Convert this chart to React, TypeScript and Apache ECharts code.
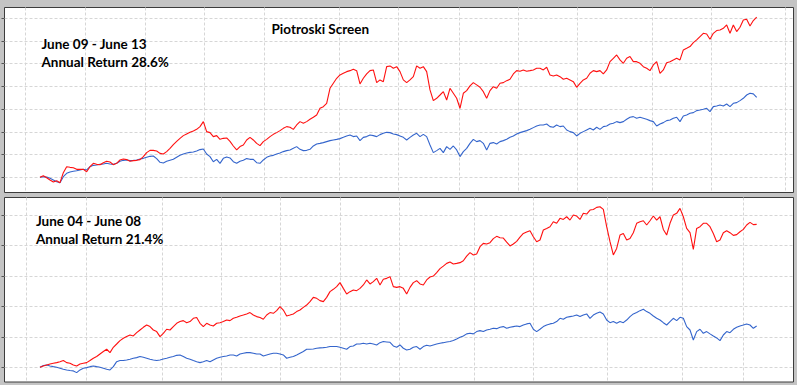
import React, { useEffect, useRef } from "react";
import * as echarts from "echarts";

// Top panel: June 09 - June 13 (growth index, start = 100)
const topScreen = [
  100.0,101.8,99.6,97.1,94.9,96.3,94.1,105.1,111.7,111.0,
  110.6,108.8,108.8,108.8,106.2,111.7,115.4,114.3,113.9,116.1,
  117.6,116.9,113.9,115.4,119.1,120.2,119.5,117.6,118.4,118.7,
  119.5,122.8,127.2,129.7,129.7,129.0,126.4,125.7,128.3,131.9,
  136.0,139.6,142.9,145.9,147.7,149.5,151.0,152.8,155.8,161.3,
  150.3,149.2,144.8,145.9,141.8,142.9,143.3,139.6,134.5,130.1,
  133.8,135.6,141.1,144.0,141.1,137.4,134.9,139.3,141.8,144.8,
  147.3,149.2,151.4,153.9,155.8,155.1,152.8,157.6,161.3,159.5,
  161.3,163.9,166.1,168.6,176.0,177.8,181.5,198.0,203.5,209.0,
  212.7,214.5,216.3,217.4,218.9,217.4,202.8,209.0,213.8,217.4,
  218.2,204.2,207.2,205.3,221.8,222.6,220.0,221.8,216.3,207.2,
  204.2,207.2,210.8,222.6,220.0,221.8,216.3,196.2,184.4,187.0,
  190.6,194.3,185.1,198.0,192.5,187.0,176.0,192.5,195.4,200.6,
  204.2,201.7,199.1,194.3,187.0,195.4,199.8,198.0,203.5,204.2,
  206.4,207.9,213.8,217.4,216.7,218.2,216.7,217.4,218.2,220.0,
  220.0,218.2,221.1,212.7,211.6,212.7,210.8,207.9,209.0,207.2,
  205.3,199.1,203.5,207.2,209.0,214.5,217.4,216.3,217.4,213.8,
  218.2,227.3,231.0,234.7,229.2,225.5,231.0,232.9,227.3,227.3,
  225.5,221.8,220.0,217.4,223.7,227.3,214.5,218.2,226.2,227.3,
  229.2,231.0,229.2,240.2,242.0,243.9,248.3,251.2,254.9,258.5,
  257.8,251.9,258.5,261.5,262.2,264.0,267.7,258.5,267.7,260.4,
  265.2,273.2,274.0,266.6,272.5,276.2,
];
const topMarket = [
  100.0,100.7,100.4,98.9,97.1,95.2,94.1,100.7,104.4,105.9,
  106.6,107.3,108.1,108.8,108.1,111.7,113.2,113.6,114.3,114.7,
  115.4,114.7,114.3,115.4,117.6,118.7,119.1,118.4,118.7,119.1,
  120.2,120.9,122.0,123.1,123.5,120.6,116.5,115.8,117.6,118.7,
  119.8,122.0,124.2,125.7,126.8,127.5,127.9,129.0,130.5,131.2,
  125.7,122.8,117.2,119.8,115.4,120.9,122.4,121.3,117.2,115.4,
  117.6,118.7,120.6,119.8,119.8,116.1,115.4,119.1,122.0,123.5,
  124.2,125.7,126.8,128.3,129.4,130.1,131.9,133.8,130.8,129.4,
  129.7,130.8,134.5,136.7,137.4,138.2,139.3,140.4,141.1,141.8,
  142.6,144.0,145.5,146.6,144.8,145.5,140.4,144.0,144.8,146.6,
  145.9,144.8,147.0,148.4,149.5,149.2,147.7,147.0,145.5,144.0,
  141.1,144.0,146.6,148.4,144.8,147.3,144.8,135.6,127.2,129.4,
  131.9,127.2,133.8,130.8,134.5,130.1,122.8,128.3,131.9,137.4,
  141.8,139.3,140.4,137.4,130.1,137.4,138.2,136.7,139.3,140.4,
  141.8,144.0,145.5,147.7,149.2,150.3,151.4,152.8,154.7,156.5,
  157.6,157.6,158.7,155.8,155.1,157.6,155.8,156.5,152.1,150.3,
  149.2,145.5,148.4,150.3,152.1,153.9,152.1,155.1,152.8,155.8,
  156.5,158.7,159.5,161.3,160.2,161.3,163.9,166.1,166.8,165.0,
  166.1,165.0,163.9,162.4,161.3,156.5,158.7,160.2,162.4,163.1,
  165.0,166.1,161.3,167.5,168.6,170.5,171.2,173.4,174.1,174.9,
  176.0,172.3,177.8,178.5,179.6,178.5,180.7,177.8,181.5,182.2,
  184.4,187.0,190.6,192.5,191.8,188.1,
];

// Bottom panel: June 04 - June 08
const bottomScreen = [
  100.0,101.1,101.9,102.7,103.3,103.8,104.6,105.5,103.8,103.3,
  101.9,101.1,102.7,103.3,103.8,105.5,107.4,108.8,110.9,112.9,
  114.8,112.0,116.4,119.1,121.9,123.8,125.2,126.5,125.7,128.4,
  130.6,132.8,134.7,133.4,130.6,129.3,125.2,127.9,131.2,130.6,
  133.4,136.1,137.5,138.3,136.6,137.5,140.2,140.8,136.1,133.4,
  136.1,134.7,133.9,136.1,136.6,137.5,138.8,138.3,140.2,141.0,
  142.1,142.9,143.8,144.9,142.9,141.6,140.8,139.4,142.9,144.9,
  144.3,146.5,149.8,147.0,142.1,142.9,143.8,145.7,147.0,149.2,
  151.1,153.9,157.4,156.6,154.7,153.9,157.4,162.1,164.0,166.2,
  169.5,164.8,160.2,162.1,163.5,162.9,164.8,167.6,171.7,168.4,
  170.3,173.0,167.6,172.2,173.0,174.4,166.2,165.6,166.2,164.8,
  160.2,165.6,169.5,171.1,168.4,167.6,171.7,174.1,174.9,177.7,
  181.0,183.1,185.3,186.4,184.8,185.3,185.9,187.5,191.3,194.1,
  192.2,193.0,199.0,201.7,201.2,202.3,205.6,207.5,206.4,206.1,
  202.8,199.6,201.2,203.4,206.9,209.9,211.0,212.1,207.2,203.1,
  204.5,212.7,214.0,215.4,219.5,218.2,222.3,221.4,223.6,220.9,
  225.0,224.2,221.4,226.4,225.8,229.1,229.6,231.3,231.8,229.6,
  215.4,203.1,192.2,197.6,208.6,209.9,204.5,205.8,210.5,218.2,
  219.5,220.3,216.8,220.3,224.2,220.9,223.6,213.2,208.6,218.2,
  225.0,226.4,230.5,223.6,214.0,210.5,196.8,214.0,215.4,218.2,
  218.2,215.4,209.9,203.1,204.5,210.5,212.1,210.5,208.3,208.9,
  211.3,213.2,216.8,219.0,217.1,217.3,
];
const bottomMarket = [
  100.0,101.4,101.9,101.1,100.5,100.0,99.2,98.4,97.8,97.3,
  97.0,95.6,97.8,99.2,99.7,100.5,101.1,100.5,100.0,99.2,
  98.4,97.8,100.5,104.6,105.5,105.5,106.0,106.6,107.4,107.9,
  108.8,108.2,107.4,106.6,106.0,105.5,106.0,106.8,107.4,108.2,
  108.8,109.8,110.1,108.8,107.4,106.6,105.5,104.6,103.8,104.6,
  105.5,104.6,106.0,107.4,108.2,108.8,109.3,110.1,110.1,109.3,
  110.9,111.5,112.0,112.0,111.5,110.9,110.9,109.3,110.1,110.9,
  111.5,111.5,110.9,110.1,107.4,108.2,108.8,110.1,111.5,112.9,
  114.8,114.8,115.0,115.6,115.9,116.1,116.4,117.0,117.0,117.0,
  116.4,115.6,114.8,117.0,117.5,119.1,119.1,119.7,119.1,119.7,
  119.1,118.3,120.2,121.1,120.8,120.5,117.5,116.4,118.3,115.6,
  114.2,114.8,116.4,117.0,114.8,117.0,118.1,117.5,118.3,119.1,
  119.7,120.2,120.8,121.1,121.9,123.2,124.6,125.7,127.4,127.9,
  127.4,129.3,130.1,129.3,130.6,131.2,132.0,131.7,132.8,133.4,
  132.0,132.8,133.4,133.9,133.4,134.7,135.6,136.1,131.2,129.3,
  131.2,133.4,134.7,135.6,136.1,137.5,140.2,139.4,141.0,141.6,
  142.1,142.9,141.6,142.9,143.8,140.2,142.9,144.3,145.4,143.8,
  138.8,136.6,137.5,136.1,137.5,136.6,138.8,141.6,143.8,144.9,
  146.5,147.6,145.7,144.3,142.1,140.2,138.8,136.6,134.7,137.5,
  140.2,138.3,141.0,140.2,133.4,130.6,122.4,129.3,131.2,127.9,
  129.3,127.4,125.7,124.1,121.9,126.5,129.3,128.4,131.2,132.8,
  133.9,134.7,135.6,134.7,132.0,133.9,
];

// Gridline positions (sample index units) and value ticks
const topTimeGrid = [-4.3, 13.6, 31.5, 49.3, 67.3, 89.8, 107.5, 125.7, 143.5, 161.2, 183.8, 201.5, 223.7];
const bottomTimeGrid = [-4.0, 14.0, 36.6, 54.3, 72.2, 90.2, 107.8, 130.3, 148.1, 170.3, 192.8, 210.9];
const topValueTicks = [100, 125, 150, 175, 200, 225, 250, 275];
const bottomValueTicks = [100, 125, 150, 175, 200, 225];

const titleText = "Piotroski Screen";
const topLabels = ["June 09 - June 13", "Annual Return 28.6%"];
const bottomLabels = ["June 04 - June 08", "Annual Return 21.4%"];

const RED = "#ff1010";
const BLUE = "#3465cc";
const GRIDC = "#d6d6d6";
const FONT = "bold 13.5px Lato, 'Open Sans', sans-serif";

export default function App() {
  const ref = useRef<HTMLDivElement>(null);
  useEffect(() => {
    if (!ref.current) return;
    const chart = echarts.init(ref.current, undefined, { renderer: "svg" });
    const xAxisBase = (min: number, max: number, grid: number[], gi: number) => ({
      type: "value",
      gridIndex: gi,
      min,
      max,
      position: "bottom",
      axisLine: { show: false, onZero: false },
      axisLabel: { show: false },
      axisTick: { show: false, customValues: grid },
      splitLine: { show: true, lineStyle: { color: GRIDC, type: [3, 2], width: 1 } },
    });
    const yAxisBase = (min: number, max: number, ticks: number[], gi: number) => ({
      type: "value",
      gridIndex: gi,
      min,
      max,
      position: "left",
      axisLine: { show: false, onZero: false },
      axisLabel: { show: false },
      axisTick: { show: true, inside: false, length: 3, customValues: ticks, lineStyle: { color: "#555" } },
      splitLine: { show: true, lineStyle: { color: GRIDC, type: [3, 2], width: 1 } },
    });
    const lineSeries = (data: number[], color: string, idx: number) => ({
      type: "line",
      xAxisIndex: idx,
      yAxisIndex: idx,
      data: data.map((v, i) => [i, v]),
      showSymbol: false,
      symbol: "none",
      clip: false,
      lineStyle: { color, width: 1.1 },
      itemStyle: { color },
      z: color === RED ? 3 : 2,
    });
    const text = (t: string, x: number, y: number) => ({
      type: "text",
      x,
      y,
      z: 10,
      style: { text: t, font: FONT, fill: "#000", verticalAlign: "middle", align: "left" },
    });
    chart.setOption({
      animation: false,
      backgroundColor: "#c4c4c4",
      grid: [
        { left: 4.5, top: 7.5, width: 789, height: 185, show: true, backgroundColor: "#fff", borderColor: "#3c3c3c", borderWidth: 1, containLabel: false, outerBoundsMode: "none" },
        { left: 4.5, top: 197.5, width: 789, height: 184.5, show: true, backgroundColor: "#fff", borderColor: "#3c3c3c", borderWidth: 1, containLabel: false, outerBoundsMode: "none" },
      ],
      xAxis: [
        xAxisBase(-10.65, 226.05, topTimeGrid, 0),
        xAxisBase(-10.65, 226.05, bottomTimeGrid, 1),
      ],
      yAxis: [
        yAxisBase(83.3, 286.9, topValueTicks, 0),
        yAxisBase(87.9, 239.4, bottomValueTicks, 1),
      ],
      series: [
        lineSeries(topMarket, BLUE, 0),
        lineSeries(topScreen, RED, 0),
        lineSeries(bottomMarket, BLUE, 1),
        lineSeries(bottomScreen, RED, 1),
      ],
      graphic: [
        text(titleText, 271.5, 28.5),
        text(topLabels[0], 41.5, 43.5),
        text(topLabels[1], 41.5, 61.5),
        text(bottomLabels[0], 36, 220.5),
        text(bottomLabels[1], 36, 239),
      ],
    });
    return () => chart.dispose();
  }, []);
  return (
    <div style={{ position: "absolute", left: 0, top: 0, width: 797, height: 385 }}>
      <div ref={ref} style={{ width: 797, height: 385 }} />
    </div>
  );
}
